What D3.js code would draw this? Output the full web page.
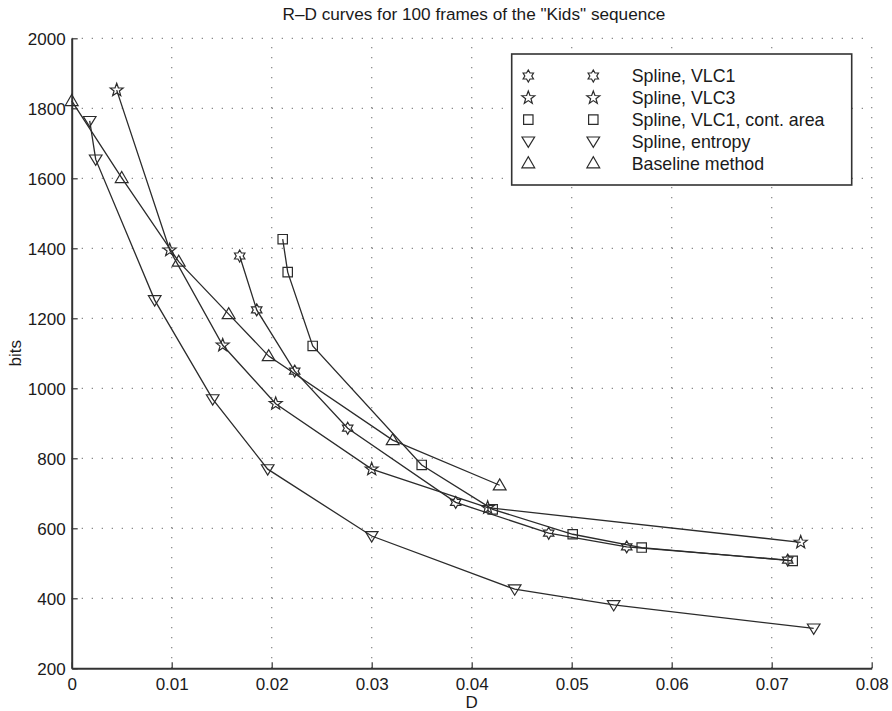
<!DOCTYPE html>
<html>
<head>
<meta charset="utf-8">
<script src="https://cdn.jsdelivr.net/npm/d3@7"></script>
<style>
  html, body { margin: 0; padding: 0; background: #fff; }
  svg { display: block; }
  text { font-family: "Liberation Sans", Arial, Helvetica, sans-serif; fill: #1a1a1a; }
</style>
</head>
<body>
<svg id="chart" width="892" height="711"></svg>
<script>
// Rate–distortion points (D, bits) for each coding method
const splineVLC1 = [
  [0.0168, 1378], [0.0185, 1224], [0.0223, 1049], [0.0276, 886],
  [0.0384, 674], [0.0477, 586], [0.0555, 547], [0.0716, 509]
];
const splineVLC3 = [
  [0.0045, 1852], [0.0098, 1395], [0.0151, 1123], [0.0204, 956],
  [0.0300, 769], [0.0416, 659], [0.0729, 560]
];
const splineVLC1Cont = [
  [0.0211, 1426], [0.0216, 1332], [0.0241, 1121], [0.0350, 781],
  [0.0421, 654], [0.0501, 583], [0.0570, 545], [0.0721, 507]
];
const splineEntropy = [
  [0.0018, 1764], [0.0024, 1654], [0.0083, 1252], [0.0141, 969],
  [0.0196, 769], [0.0300, 578], [0.0443, 426], [0.0542, 381], [0.0742, 314]
];
const baseline = [
  [0.0000, 1821], [0.0050, 1601], [0.0107, 1362], [0.0157, 1212],
  [0.0197, 1092], [0.0321, 852], [0.0428, 723]
];

const seriesNames = ["Spline, VLC1", "Spline, VLC3", "Spline, VLC1, cont. area", "Spline, entropy", "Baseline method"];
const seriesData = [splineVLC1, splineVLC3, splineVLC1Cont, splineEntropy, baseline];
const seriesMarkers = ["hexagram", "pentagram", "square", "triangleDown", "triangleUp"];

const xTicks = [0, 0.01, 0.02, 0.03, 0.04, 0.05, 0.06, 0.07, 0.08];
const yTicks = [200, 400, 600, 800, 1000, 1200, 1400, 1600, 1800, 2000];

const titleText = 'R\u2013D curves for 100 frames of the "Kids" sequence';
const xLabel = "D";
const yLabel = "bits";

// ---- layout ----
const svg = d3.select("#chart");
const plotLeft = 71.7, plotRight = 871.7, plotTop = 38.3, plotBottom = 668.3;
const ink = "#2b2b2b";

const x = d3.scaleLinear().domain([0, 0.08]).range([plotLeft, plotRight]);
const y = d3.scaleLinear().domain([200, 2000]).range([plotBottom, plotTop]);

// dotted grid
const grid = svg.append("g").attr("stroke", "#8a8a8a").attr("stroke-width", 1.3)
  .attr("stroke-dasharray", "1.3,8.7").attr("fill", "none");
grid.selectAll("line.v").data(xTicks.slice(1)).join("line").attr("class", "v")
  .attr("x1", d => x(d)).attr("x2", d => x(d)).attr("y1", plotBottom).attr("y2", plotTop);
grid.selectAll("line.h").data(yTicks.slice(1)).join("line").attr("class", "h")
  .attr("x1", plotLeft).attr("x2", plotRight).attr("y1", d => y(d)).attr("y2", d => y(d));

// axes (ticks pointing inward)
const xAxis = d3.axisBottom(x).tickValues(xTicks).tickSizeInner(-6).tickSizeOuter(0)
  .tickPadding(12).tickFormat(d => d === 0 ? "0" : d3.format(".2f")(d));
const yAxis = d3.axisLeft(y).tickValues(yTicks).tickSizeInner(-6).tickSizeOuter(0)
  .tickPadding(6).tickFormat(d3.format("d"));

const gx = svg.append("g").attr("transform", `translate(0,${plotBottom})`).call(xAxis);
const gy = svg.append("g").attr("transform", `translate(${plotLeft},0)`).call(yAxis);
[gx, gy].forEach(g => {
  g.select(".domain").attr("stroke", "#333").attr("stroke-width", 2);
  g.selectAll(".tick line").attr("stroke", "#333").attr("stroke-width", 1.2);
  g.selectAll(".tick text").attr("font-size", 17).attr("fill", "#1a1a1a")
    .attr("font-family", '"Liberation Sans", Arial, Helvetica, sans-serif');
});
gx.selectAll(".tick text").attr("dy", "0.55em");
gy.selectAll(".tick text").attr("dy", "0.36em");

// marker shapes
function starPath(n, rOut, rIn, rot) {
  const pts = [];
  for (let i = 0; i < 2 * n; i++) {
    const r = i % 2 === 0 ? rOut : rIn;
    const a = rot + i * Math.PI / n;
    pts.push([r * Math.sin(a), -r * Math.cos(a)]);
  }
  return "M" + pts.map(p => p[0].toFixed(2) + "," + p[1].toFixed(2)).join("L") + "Z";
}
const markerPaths = {
  hexagram: starPath(6, 6, 6 / Math.sqrt(3), 0),
  pentagram: starPath(5, 6.8, 2.8, 0),
  square: "M-4.7,-4.7H4.7V4.7H-4.7Z",
  triangleDown: "M-6.3,-4.4H6.3L0,6Z",
  triangleUp: "M-6.4,4.6H6.4L0,-6.4Z"
};

// series lines and markers
const line = d3.line().x(d => x(d[0])).y(d => y(d[1]));
const plot = svg.append("g");
seriesData.forEach((data, i) => {
  plot.append("path").datum(data).attr("d", line)
    .attr("fill", "none").attr("stroke", ink).attr("stroke-width", 1.3);
  plot.append("g").selectAll("path").data(data).join("path")
    .attr("d", markerPaths[seriesMarkers[i]])
    .attr("transform", d => `translate(${x(d[0])},${y(d[1])})`)
    .attr("fill", "none").attr("stroke", ink).attr("stroke-width", 1.2);
});

// legend
const lg = svg.append("g");
lg.append("rect").attr("x", 511.7).attr("y", 54).attr("width", 340).attr("height", 131)
  .attr("fill", "#fff").attr("stroke", "#333").attr("stroke-width", 1.6);
seriesNames.forEach((name, i) => {
  const cy = 76 + i * 21.8;
  [528.3, 593.3].forEach(cx => {
    lg.append("path").attr("d", markerPaths[seriesMarkers[i]])
      .attr("transform", `translate(${cx},${cy})`)
      .attr("fill", "none").attr("stroke", ink).attr("stroke-width", 1.2);
  });
  lg.append("text").attr("x", 631.7).attr("y", cy).attr("dy", "0.36em")
    .attr("font-size", 17.8).text(name);
});

// titles
svg.append("text").attr("x", 474).attr("y", 20).attr("text-anchor", "middle")
  .attr("font-size", 17.2).text(titleText);
svg.append("text").attr("x", x(0.04)).attr("y", 708).attr("text-anchor", "middle")
  .attr("font-size", 17).text(xLabel);
svg.append("text").attr("transform", `translate(21,${y(1100)}) rotate(-90)`)
  .attr("text-anchor", "middle").attr("font-size", 17).text(yLabel);
</script>
</body>
</html>
